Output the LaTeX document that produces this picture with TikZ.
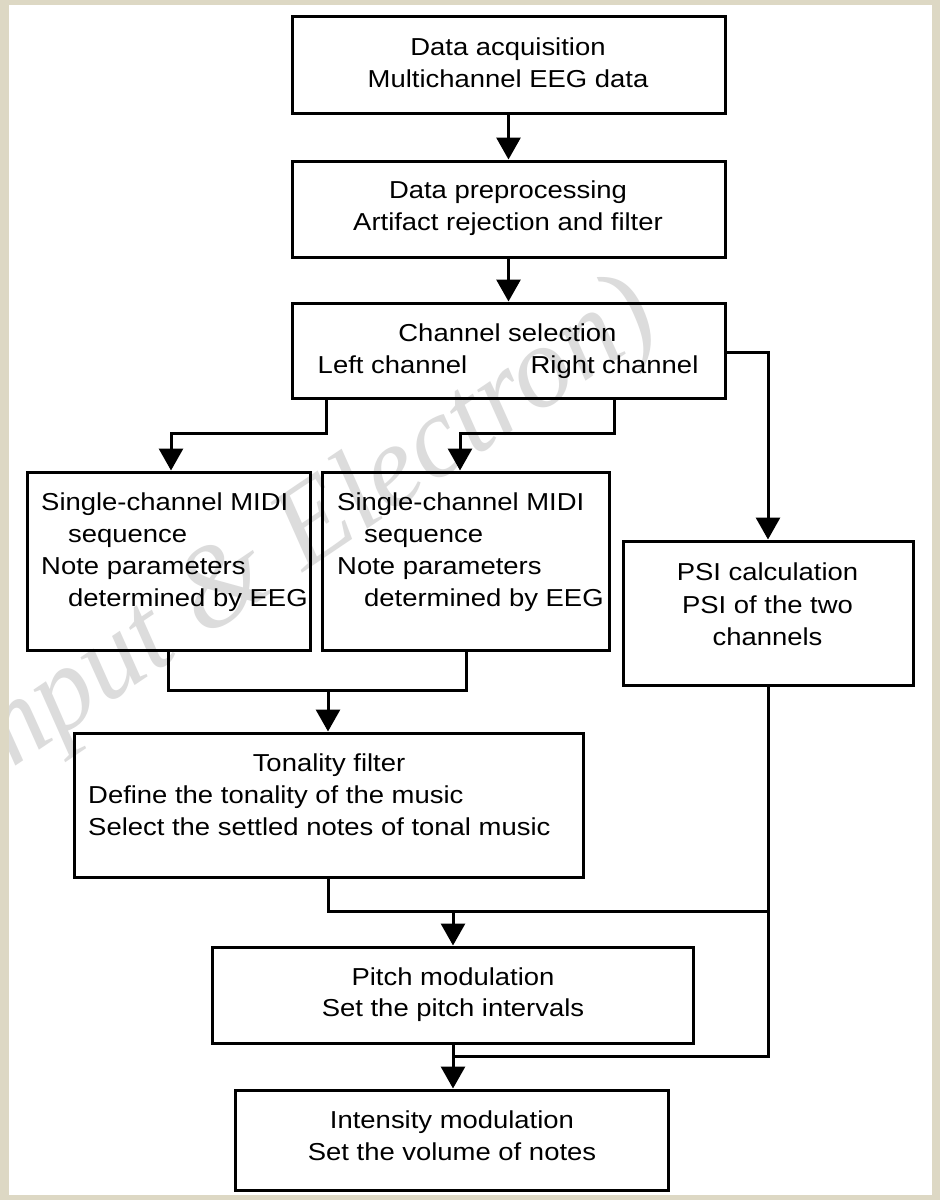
\documentclass[tikz,border=0pt]{standalone}
\usepackage{fontspec}
\setmainfont[FakeStretch=1.12]{Liberation Sans}
\newfontfamily\wmfont{Liberation Serif}
\usetikzlibrary{arrows.meta}
\definecolor{framecol}{HTML}{DDD8C4}
\definecolor{wmcol}{HTML}{DCDCDC}
\tikzset{
  box/.style={draw, line width=3pt, inner sep=0pt},
  ln/.style={inner sep=0pt, anchor=base, font=\fontsize{24.5}{32}\selectfont},
  lnw/.style={ln, anchor=base west},
  conn/.style={line width=3pt},
  arr/.style={line width=3pt, -{Triangle[width=24pt,length=22pt]}},
}
\begin{document}
\begin{tikzpicture}[x=1pt,y=-1pt]
\fill[framecol] (0,0) rectangle (940,1200);
\fill[white] (9,5) rectangle (932,1195);
\useasboundingbox (0,0) rectangle (940,1200);
% watermark
\begin{scope}
\clip (9,5) rectangle (932,1195);
\node[text=wmcol, font=\wmfont\itshape\fontsize{116}{116}\selectfont, rotate=34, anchor=base west, inner sep=0pt] (wm) at (-12,785) {mput \& Electron)};
\end{scope}
% boxes
\node[box, minimum width=433pt, minimum height=97pt] (acq) at (508.5,64.5) {};
\node[box, minimum width=433pt, minimum height=96pt] (pre) at (508.5,209) {};
\node[box, minimum width=433pt, minimum height=95pt] (sel) at (508.5,350.5) {};
\node[box, minimum width=283pt, minimum height=178pt] (midL) at (168.5,561) {};
\node[box, minimum width=287pt, minimum height=178pt] (midR) at (465.5,561) {};
\node[box, minimum width=290pt, minimum height=144pt] (psi) at (768,613) {};
\node[box, minimum width=509pt, minimum height=144pt] (ton) at (328.5,805) {};
\node[box, minimum width=481pt, minimum height=96pt] (pit) at (452.5,995) {};
\node[box, minimum width=433pt, minimum height=100pt] (int) at (451.5,1140) {};
% texts
\node[ln] (acq1) at (508,55.5) {Data acquisition};
\node[ln] (acq2) at (508,87.5) {Multichannel EEG data};
\node[ln] (pre1) at (508,198.5) {Data preprocessing};
\node[ln] (pre2) at (508,230.5) {Artifact rejection and filter};
\node[ln] (sel1) at (507.5,341.5) {Channel selection};
\node[ln] (sel2) at (392.5,373.5) {Left channel};
\node[ln] (sel3) at (614.5,373.5) {Right channel};
\node[lnw] (mL1) at (41,510.5) {Single-channel MIDI};
\node[lnw] (mL2) at (68,542.5) {sequence};
\node[lnw] (mL3) at (41,574.5) {Note parameters};
\node[lnw] (mL4) at (68,606.5) {determined by EEG};
\node[lnw] (mR1) at (337,510.5) {Single-channel MIDI};
\node[lnw] (mR2) at (364,542.5) {sequence};
\node[lnw] (mR3) at (337,574.5) {Note parameters};
\node[lnw] (mR4) at (364,606.5) {determined by EEG};
\node[ln] (psi1) at (767.5,580.5) {PSI calculation};
\node[ln] (psi2) at (767.5,613) {PSI of the two};
\node[ln] (psi3) at (767.5,645.5) {channels};
\node[ln] (ton1) at (329,771.5) {Tonality filter};
\node[lnw] (ton2) at (88,803.5) {Define the tonality of the music};
\node[lnw] (ton3) at (88,835.5) {Select the settled notes of tonal music};
\node[ln] (pit1) at (453,985.5) {Pitch modulation};
\node[ln] (pit2) at (453,1016.5) {Set the pitch intervals};
\node[ln] (int1) at (452,1128.5) {Intensity modulation};
\node[ln] (int2) at (452,1160.5) {Set the volume of notes};
% junction coordinates
\coordinate (j1) at (326,433);
\coordinate (j2) at (614,433);
\coordinate (j3) at (768,352);
\coordinate (j4) at (168,690);
\coordinate (j5) at (466,690);
\coordinate (j0) at (328,690);
\coordinate (j6) at (328,911);
\coordinate (j7) at (768,911);
\coordinate (j8) at (768,1056);
\coordinate (j9) at (453,911);
\coordinate (j10) at (453,1056);
\coordinate (t1) at (171,433);
\coordinate (t2) at (460,433);
% connectors
\draw[arr] (acq.south) -- (pre.north);
\draw[arr] (pre.south) -- (sel.north);
\draw[arr] (sel.south -| j1) -- (j1) -- (t1) -- (midL.north -| t1);
\draw[arr] (sel.south -| j2) -- (j2) -- (t2) -- (midR.north -| t2);
\draw[arr] (sel.east |- j3) -- (j3) -- (psi.north -| j3);
\draw[conn] (midL.south -| j4) -- (j4) -- (j5) -- (midR.south -| j5);
\draw[arr] (j0) -- (ton.north -| j0);
\draw[conn] (ton.south -| j6) -- (j6) -- (j7);
\draw[conn] (psi.south -| j7) -- (j8) -- (j10);
\draw[arr] (j9) -- (pit.north -| j9);
\draw[arr] (pit.south -| j9) -- (int.north -| j9);
\end{tikzpicture}
\end{document}
